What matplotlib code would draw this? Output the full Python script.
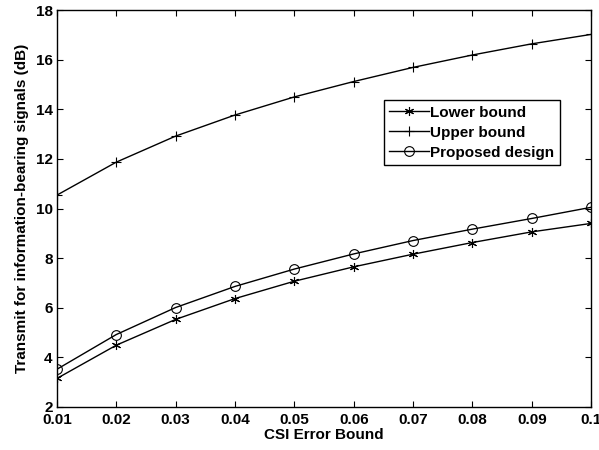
import matplotlib
matplotlib.use("Agg")
import matplotlib.pyplot as plt

csi_bound = [0.01, 0.02, 0.03, 0.04, 0.05, 0.06, 0.07, 0.08, 0.09, 0.10]
lower_bound = [3.15, 4.49, 5.53, 6.37, 7.07, 7.65, 8.16, 8.63, 9.06, 9.40]
upper_bound = [10.54, 11.87, 12.92, 13.77, 14.50, 15.12, 15.69, 16.19, 16.64, 17.02]
proposed = [3.52, 4.92, 6.01, 6.86, 7.56, 8.17, 8.71, 9.17, 9.60, 10.05]

x_ticks = [0.01, 0.02, 0.03, 0.04, 0.05, 0.06, 0.07, 0.08, 0.09, 0.1]
x_tick_labels = ["0.01", "0.02", "0.03", "0.04", "0.05", "0.06", "0.07", "0.08", "0.09", "0.1"]
y_ticks = [2, 4, 6, 8, 10, 12, 14, 16, 18]

plt.rcParams["font.family"] = ["Liberation Sans", "DejaVu Sans"]
plt.rcParams["font.weight"] = "bold"

fig = plt.figure(figsize=(5.99, 4.5), dpi=100)
ax = fig.add_axes([0.095, 0.0956, 0.892, 0.882])

lw = 1.0
ax.plot(csi_bound, lower_bound, color="black", lw=lw, marker=(6, 2, 0),
        markersize=6.5, markeredgewidth=0.8, label="Lower bound")
ax.plot(csi_bound, upper_bound, color="black", lw=lw, marker="+",
        markersize=7, markeredgewidth=0.8, label="Upper bound")
ax.plot(csi_bound, proposed, color="black", lw=lw, marker="o",
        markersize=7, markerfacecolor="none", markeredgewidth=0.8,
        label="Proposed design")

ax.set_xlim(0.01, 0.1)
ax.set_ylim(2, 18)
ax.set_xticks(x_ticks)
ax.set_xticklabels(x_tick_labels)
ax.set_yticks(y_ticks)
ax.tick_params(direction="in", top=True, right=True, length=4, width=0.8,
               labelsize=11)
ax.tick_params(axis="x", pad=4)
ax.tick_params(axis="y", pad=3)
for lab in ax.get_xticklabels() + ax.get_yticklabels():
    lab.set_fontweight("bold")
for s in ax.spines.values():
    s.set_linewidth(1.0)

ax.set_xlabel("CSI Error Bound", fontsize=11, fontweight="bold", labelpad=1)
ax.set_ylabel("Transmit for information-bearing signals (dB)", fontsize=11,
              fontweight="bold", labelpad=5)

leg = ax.legend(loc="upper left", bbox_to_anchor=(0.612, 0.773), fancybox=False,
                edgecolor="black", framealpha=1,
                prop={"weight": "bold", "size": 11}, handlelength=2.6,
                borderpad=0.35, labelspacing=0.4, handletextpad=0.1,
                borderaxespad=0)
leg.get_frame().set_linewidth(1.0)

fig.savefig("out.png", dpi=100)
